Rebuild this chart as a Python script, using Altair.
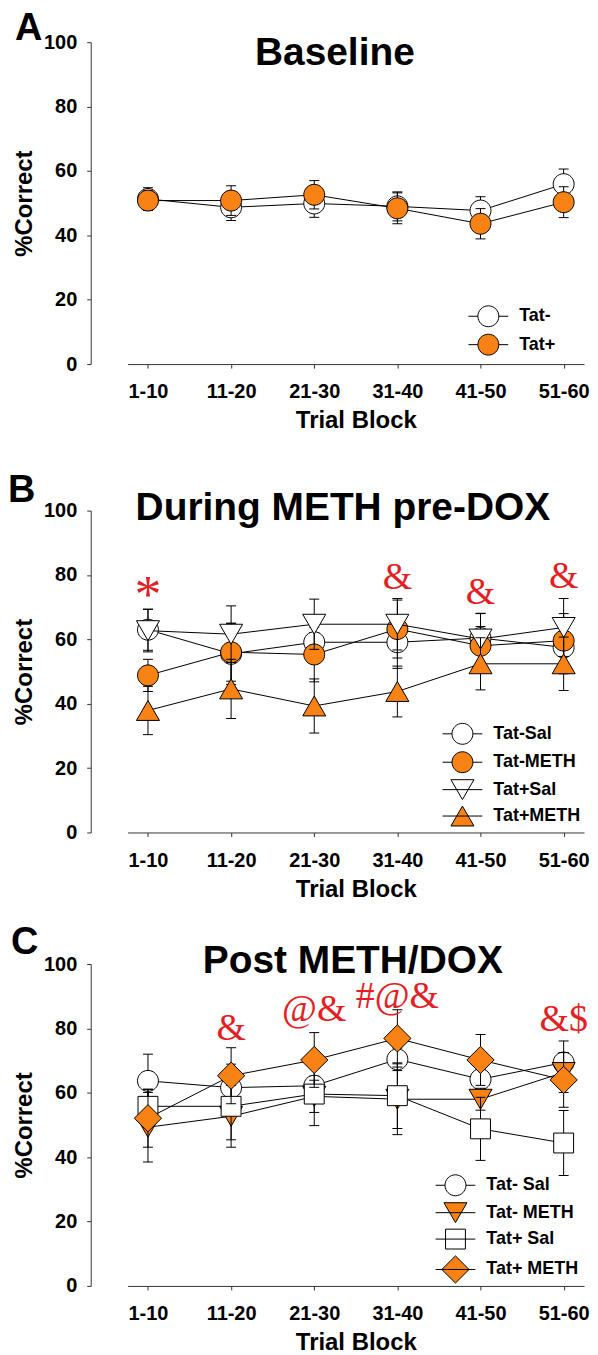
import altair as alt
import pandas as pd

# ---------------- data ----------------
blocks = ["1-10", "11-20", "21-30", "31-40", "41-50", "51-60"]

# Panel A: Baseline
a_groups = ["Tat-", "Tat+"]
a_tatm_mean = [51.3, 48.7, 49.9, 49.0, 47.7, 55.9]
a_tatm_sem = [3.5, 4.1, 4.3, 4.5, 4.3, 4.7]
a_tatp_mean = [50.8, 50.8, 52.6, 48.4, 43.6, 50.3]
a_tatp_sem = [3.0, 4.6, 4.4, 4.8, 4.7, 4.8]

# Panel B: During METH pre-DOX
b_groups = ["Tat-Sal", "Tat-METH", "Tat+Sal", "Tat+METH"]
b_tatm_sal_mean = [63.0, 55.5, 59.1, 59.1, 60.4, 57.5]
b_tatm_sal_sem = [6.4, 9.5, 3.0, 8.1, 7.6, 8.2]
b_tatm_meth_mean = [48.8, 56.0, 55.3, 63.2, 58.0, 59.6]
b_tatm_meth_sem = [5.0, 9.0, 8.5, 9.0, 6.0, 8.4]
b_tatp_sal_mean = [62.7, 61.6, 64.7, 64.7, 60.1, 63.7]
b_tatp_sal_sem = [6.6, 8.8, 7.8, 8.0, 8.0, 9.0]
b_tatp_meth_mean = [37.9, 44.6, 39.3, 43.8, 52.4, 52.4]
b_tatp_meth_sem = [7.5, 9.2, 8.4, 7.9, 8.1, 8.3]
b_ann_block = ["1-10", "31-40", "41-50", "51-60"]
b_ann_text = ["*", "&", "&", "&"]
b_ann_y = [73.5, 79.2, 74.5, 79.4]

# Panel C: Post METH/DOX
c_groups = ["Tat- Sal", "Tat- METH", "Tat+ Sal", "Tat+ METH"]
c_tatm_sal_mean = [63.7, 61.6, 62.2, 70.4, 64.2, 69.4]
c_tatm_sal_sem = [8.3, 7.3, 3.0, 3.5, 3.0, 6.7]
c_tatm_meth_mean = [49.3, 52.7, 58.9, 58.0, 58.0, 66.3]
c_tatm_meth_sem = [10.8, 9.6, 5.0, 11.0, 3.4, 6.2]
c_tatp_sal_mean = [55.8, 55.8, 59.6, 59.1, 48.8, 44.4]
c_tatp_sal_sem = [5.3, 10.4, 9.8, 10.2, 9.8, 10.1]
c_tatp_meth_mean = [52.1, 65.3, 70.2, 76.9, 70.2, 64.0]
c_tatp_meth_sem = [9.0, 8.7, 8.5, 8.9, 7.9, 8.5]
c_ann_block = ["11-20", "21-30", "31-40", "51-60"]
c_ann_text = ["&", "@&", "#@&", "&$"]
c_ann_y = [79.8, 85.6, 89.6, 82.6]

# ---------------- styling ----------------
FONT = "Liberation Sans"
SERIF = "Liberation Serif"
INK = "#000000"
AXIS_INK = "#333333"
ORANGE = "#F98214"
RED = "#E31E24"
W, H = 458, 323
SIZE = 441

CIRCLE = "M-1,0A1,1,0,1,1,1,0A1,1,0,1,1,-1,0Z"
TRI_DOWN = "M-1.1,-0.95L1.1,-0.95L0,0.95Z"
TRI_UP = "M0,-0.95L1.1,0.95L-1.1,0.95Z"
SQUARE = "M-0.95,-0.95L0.95,-0.95L0.95,0.95L-0.95,0.95Z"
DIAMOND = "M0,-1.3L1.3,0L0,1.3L-1.3,0Z"
LEG_CIRCLE = "M-1.9,0L-1,0M1,0L1.9,0" + CIRCLE
STRIKE = "M-1.9,0L1.9,0"

xscale = alt.Scale(type="point", domain=blocks, padding=0.245)
yscale = alt.Scale(domain=[0, 100], nice=False, zero=True)
xaxis = alt.Axis(title="Trial Block", labelAngle=0, tickSize=4, labelPadding=14,
                 titlePadding=7, grid=False, domainColor=AXIS_INK, tickColor=AXIS_INK,
                 labelFont=FONT, labelFontSize=20, labelFontWeight="bold", labelColor=INK,
                 titleFont=FONT, titleFontSize=24, titleFontWeight="bold", titleColor=INK)
yaxis = alt.Axis(title="%Correct", values=[0, 20, 40, 60, 80, 100], offset=37, tickSize=4,
                 labelPadding=10, titlePadding=7, grid=False, domainColor=AXIS_INK,
                 tickColor=AXIS_INK, labelFont=FONT, labelFontSize=20, labelFontWeight="bold",
                 labelColor=INK, titleFont=FONT, titleFontSize=24, titleFontWeight="bold",
                 titleColor=INK)


def X():
    return alt.X("block:O", scale=xscale, axis=xaxis)


def Y(field):
    return alt.Y(field, scale=yscale, axis=yaxis)


def panel(groups, means, sems, fills, shapes, leg_shapes, letter, letter_pos,
          title, title_pos, legend_pos, ann=None):
    layers = []
    for g, m, s, f, shp in zip(groups, means, sems, fills, shapes):
        df = pd.DataFrame({"block": blocks, "mean": m,
                           "lo": [a - b for a, b in zip(m, s)],
                           "hi": [a + b for a, b in zip(m, s)], "group": g})
        base = alt.Chart(df)
        layers.append(base.mark_rule(color=INK, strokeWidth=1).encode(
            x=X(), y=Y("lo:Q"), y2="hi:Q"))
        layers.append(base.mark_tick(color=INK, thickness=1, size=10, opacity=1).encode(
            x=X(), y=Y("lo:Q")))
        layers.append(base.mark_tick(color=INK, thickness=1, size=10, opacity=1).encode(
            x=X(), y=Y("hi:Q")))
        layers.append(base.mark_line(color=INK, strokeWidth=1).encode(
            x=X(), y=Y("mean:Q")))
        layers.append(base.mark_point(shape=shp, filled=True, fill=f, stroke=INK,
                                      strokeWidth=1, size=SIZE, opacity=1).encode(
            x=X(), y=Y("mean:Q")))

    # legend carrier (invisible points) with line-through symbols
    n = len(groups)
    leg_df = pd.DataFrame({"group": groups, "block": [blocks[0]] * n, "mean": [50.0] * n})
    leg = dict(orient="none", legendX=legend_pos[0], legendY=legend_pos[1], title=None,
               symbolSize=SIZE, symbolOpacity=1, symbolStrokeWidth=1,
               labelFont=FONT, labelFontSize=18, labelFontWeight="bold", labelColor=INK,
               labelOffset=20, rowPadding=2.5, padding=0, labelLimit=300)
    layers.append(alt.Chart(leg_df).mark_point(filled=True, stroke=INK, strokeWidth=1,
                                               size=SIZE, opacity=0).encode(
        x=X(), y=Y("mean:Q"),
        shape=alt.Shape("group:N", scale=alt.Scale(domain=groups, range=leg_shapes),
                        legend=alt.Legend(**leg)),
        fill=alt.Fill("group:N", scale=alt.Scale(domain=groups, range=fills),
                      legend=alt.Legend(**leg))))

    if ann is not None:
        adf = pd.DataFrame({"block": ann[0], "label": ann[1], "y": ann[2]})
        layers.append(alt.Chart(adf).transform_filter("datum.label != '*'").mark_text(
            font=SERIF, fontSize=38, color=RED, baseline="middle", align="center").encode(
            x=X(), y=Y("y:Q"), text="label:N"))
        layers.append(alt.Chart(adf).transform_filter("datum.label == '*'").mark_text(
            font=SERIF, fontSize=54, color=RED, baseline="middle", align="center").encode(
            x=X(), y=Y("y:Q"), text="label:N"))

    layers.append(alt.Chart(pd.DataFrame({"t": [letter]})).mark_text(
        font=FONT, fontSize=38, fontWeight="bold", color=INK, align="left",
        baseline="alphabetic").encode(text="t:N", x=alt.value(letter_pos[0]),
                                      y=alt.value(letter_pos[1])))
    layers.append(alt.Chart(pd.DataFrame({"t": [title]})).mark_text(
        font=FONT, fontSize=39, fontWeight="bold", color=INK, align="center",
        baseline="alphabetic").encode(text="t:N", x=alt.value(title_pos[0]),
                                      y=alt.value(title_pos[1])))
    return alt.layer(*layers).properties(width=W, height=H)


WHITE = "#FFFFFF"
pA = panel(a_groups, [a_tatm_mean, a_tatp_mean], [a_tatm_sem, a_tatp_sem],
           [WHITE, ORANGE], [CIRCLE, CIRCLE], [LEG_CIRCLE, LEG_CIRCLE],
           "A", (-113, -2), "Baseline", (208, 23), (351, 264))
pB = panel(b_groups, [b_tatm_sal_mean, b_tatm_meth_mean, b_tatp_sal_mean, b_tatp_meth_mean],
           [b_tatm_sal_sem, b_tatm_meth_sem, b_tatp_sal_sem, b_tatp_meth_sem],
           [WHITE, ORANGE, WHITE, ORANGE], [CIRCLE, CIRCLE, TRI_DOWN, TRI_UP],
           [LEG_CIRCLE, LEG_CIRCLE, TRI_DOWN + STRIKE, TRI_UP + STRIKE],
           "B", (-120, -9), "During METH pre-DOX", (216, 9), (325, 213),
           ann=(b_ann_block, b_ann_text, b_ann_y))
pC = panel(c_groups, [c_tatm_sal_mean, c_tatm_meth_mean, c_tatp_sal_mean, c_tatp_meth_mean],
           [c_tatm_sal_sem, c_tatm_meth_sem, c_tatp_sal_sem, c_tatp_meth_sem],
           [WHITE, ORANGE, WHITE, ORANGE], [CIRCLE, TRI_DOWN, SQUARE, DIAMOND],
           [LEG_CIRCLE, TRI_DOWN + STRIKE, SQUARE + STRIKE, DIAMOND + STRIKE],
           "C", (-117, -10), "Post METH/DOX", (226, 9), (318, 211),
           ann=(c_ann_block, c_ann_text, c_ann_y))

inner = alt.vconcat(pB, pC, spacing=23).resolve_legend(
    shape="independent", fill="independent").resolve_scale(
    shape="independent", fill="independent")
chart = alt.vconcat(pA, inner, spacing=39).resolve_legend(
    shape="independent", fill="independent").resolve_scale(
    shape="independent", fill="independent").properties(
    padding={"left": 0, "top": 0, "right": 0, "bottom": 0}
).configure_view(stroke=None)

chart.save("out.html", embed_options={"renderer": "svg", "actions": False})
